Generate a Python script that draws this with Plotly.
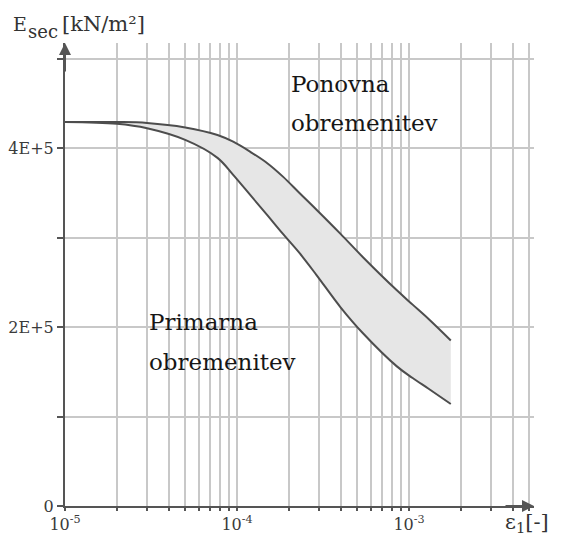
import plotly.graph_objects as go

# ---- data ----
strain = [1e-5, 2e-5, 3e-5, 5e-5, 7.7e-5, 9.5e-5, 1.2e-4, 1.5e-4, 1.85e-4, 2.3e-4,
          2.9e-4, 4e-4, 5.4e-4, 8.5e-4, 1.05e-3, 1.3e-3, 1.75e-3]
e_ponovna = [4.29e5, 4.29e5, 4.28e5, 4.23e5, 4.145e5, 4.07e5, 3.955e5, 3.83e5, 3.68e5, 3.50e5,
             3.31e5, 3.04e5, 2.78e5, 2.41e5, 2.25e5, 2.09e5, 1.85e5]
e_primarna = [4.29e5, 4.27e5, 4.22e5, 4.09e5, 3.89e5, 3.70e5, 3.47e5, 3.25e5, 3.04e5, 2.83e5,
              2.58e5, 2.22e5, 1.93e5, 1.56e5, 1.43e5, 1.31e5, 1.14e5]

x_grid = [m * 10.0 ** d for d in (-5, -4, -3) for m in range(1, 10)] + [2e-3, 3e-3, 4e-3]
x_major = {1e-5: "10<sup>-5</sup>", 1e-4: "10<sup>-4</sup>", 1e-3: "10<sup>-3</sup>"}
x_ticktext = [next((t for v, t in x_major.items() if abs(g - v) / v < 1e-9), "") for g in x_grid]
y_tickvals = [0, 1e5, 2e5, 3e5, 4e5, 5e5]
y_ticktext = ["0", "", "2E+5", "", "4E+5", ""]

label_upper = ["Ponovna", "obremenitev"]
label_lower = ["Primarna", "obremenitev"]

# ---- layout geometry (pixels); page body has an 8px offset ----
OFF = 8
W, H = 563 - OFF, 543 - OFF
L, R, T, B = 57, 29, 35, 37
PW, PH = W - L - R, H - T - B
X0, Y0 = OFF + L, OFF + H - B   # screen position of the plot origin


def px(x):
    return (x - X0) / PW


def py(y):
    return (Y0 - y) / PH


SERIF = "DejaVu Serif"
GRID = "#c8c8c8"
AX = "#555555"
CURVE = "#4d4d4d"

fig = go.Figure()
fig.add_trace(go.Scatter(x=strain, y=e_primarna, mode="lines",
                         line=dict(color=CURVE, width=2, shape="spline", smoothing=1.0),
                         hoverinfo="skip", showlegend=False))
fig.add_trace(go.Scatter(x=strain, y=e_ponovna, mode="lines", fill="tonexty",
                         fillcolor="#e6e6e6",
                         line=dict(color=CURVE, width=2, shape="spline", smoothing=1.0),
                         hoverinfo="skip", showlegend=False))

shapes = []
for (x0, x1, y0, y1) in [(267, 460, 56, 155), (128, 327, 295, 380), (455, 534, 357, 379)]:
    shapes.append(dict(type="rect", xref="paper", yref="paper",
                       x0=px(x0), x1=px(x1), y0=py(y1), y1=py(y0),
                       fillcolor="white", line=dict(width=0), layer="between"))

ann = []
TXT = "#161616"
for i, t in enumerate(label_upper):
    ann.append(dict(text=t, xref="paper", yref="paper", x=px(289), y=py(84 + 39 * i),
                    xanchor="left", yanchor="middle", showarrow=False,
                    font=dict(family=SERIF, size=23, color=TXT)))
for i, t in enumerate(label_lower):
    ann.append(dict(text=t, xref="paper", yref="paper", x=px(147), y=py(322 + 40 * i),
                    xanchor="left", yanchor="middle", showarrow=False,
                    font=dict(family=SERIF, size=23, color=TXT)))

# axis titles
ann.append(dict(text="E", xref="paper", yref="paper", x=px(11), y=py(24),
                xanchor="left", yanchor="middle", showarrow=False,
                font=dict(family=SERIF, size=19, color="#333")))
ann.append(dict(text="sec", xref="paper", yref="paper", x=px(26), y=py(31),
                xanchor="left", yanchor="middle", showarrow=False,
                font=dict(family=SERIF, size=18, color="#333")))
ann.append(dict(text="[kN/m²]", xref="paper", yref="paper", x=px(60), y=py(24),
                xanchor="left", yanchor="middle", showarrow=False,
                font=dict(family=SERIF, size=21, color="#333")))
ann.append(dict(text="ε<sub>1</sub>[-]", xref="paper", yref="paper", x=px(503), y=py(523),
                xanchor="left", yanchor="middle", showarrow=False,
                font=dict(family=SERIF, size=21, color="#333")))

# axis arrows
ann.append(dict(text="", xref="paper", yref="paper", x=1.0, y=0.0, ax=-30, ay=0,
                showarrow=True, arrowhead=2, arrowsize=1.2, arrowwidth=2, arrowcolor=AX))
ann.append(dict(text="", xref="paper", yref="paper", x=0.0, y=1.0, ax=0, ay=30,
                showarrow=True, arrowhead=2, arrowsize=1.2, arrowwidth=2, arrowcolor=AX))

fig.update_layout(
    width=W, height=H,
    margin=dict(l=L, r=R, t=T, b=B, pad=0),
    paper_bgcolor="white", plot_bgcolor="white",
    shapes=shapes, annotations=ann,
    xaxis=dict(type="log", range=[-5, -5 + PW / 172], tickvals=x_grid, ticktext=x_ticktext,
               showgrid=True, gridcolor=GRID, gridwidth=1.5,
               showline=True, linecolor=AX, linewidth=2, zeroline=False,
               ticks="outside", ticklen=3, tickwidth=1.5, tickcolor=AX,
               tickfont=dict(family=SERIF, size=16, color="#3a3a3a"),
               automargin=False, fixedrange=True),
    yaxis=dict(range=[0, PH / 89.5 * 1e5], tickvals=y_tickvals, ticktext=y_ticktext,
               showgrid=True, gridcolor=GRID, gridwidth=1.5,
               showline=True, linecolor=AX, linewidth=2, zeroline=False,
               ticks="outside", ticklen=6, tickwidth=1.5, tickcolor=AX,
               tickfont=dict(family=SERIF, size=16, color="#3a3a3a"),
               automargin=False, fixedrange=True),
)

fig.write_html("out.html")
